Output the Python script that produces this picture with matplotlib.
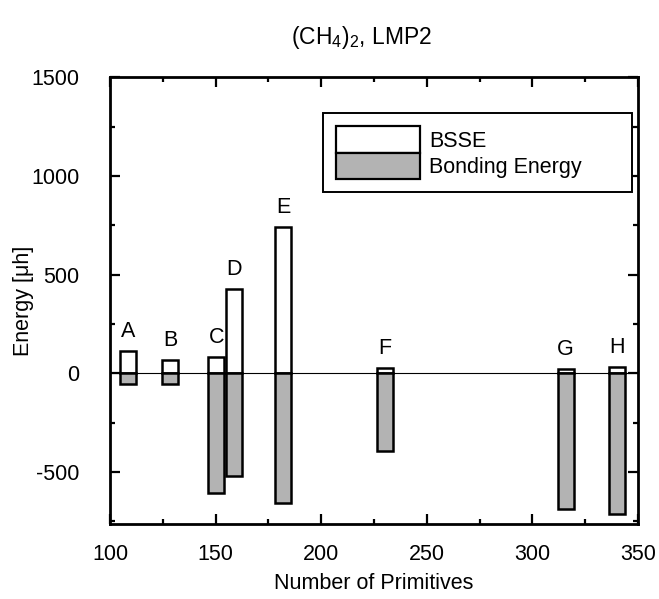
import matplotlib
matplotlib.use("Agg")
import matplotlib.pyplot as plt
from matplotlib.patches import Patch
from matplotlib.ticker import MultipleLocator

plt.rcParams["font.family"] = ["Liberation Sans", "DejaVu Sans"]
plt.rcParams["mathtext.fontset"] = "custom"
plt.rcParams["mathtext.rm"] = "Liberation Sans"
plt.rcParams["axes.unicode_minus"] = False

# basis sets, number of primitives, BSSE and bonding energy (micro-hartree)
labels = ["A", "B", "C", "D", "E", "F", "G", "H"]
primitives = [108.5, 128.5, 150.3, 158.7, 182.0, 230.0, 315.8, 340.0]
bsse = [112, 68, 82, 426, 741, 27, 22, 33]
bonding = [-54, -57, -606, -522, -660, -394, -689, -714]

GRAY = "#b3b3b3"
W = 7.6
FS = 15.5

fig = plt.figure(figsize=(6.59, 5.99), dpi=100)
ax = fig.add_axes([0.167, 0.125, 0.801, 0.746])

ax.axhline(0, color="black", lw=0.8, zorder=1)
ax.bar(primitives, bsse, width=W, facecolor="white", edgecolor="black", lw=1.8, zorder=2)
ax.bar(primitives, bonding, width=W, facecolor=GRAY, edgecolor="black", lw=1.8, zorder=2)

for name, x, b in zip(labels, primitives, bsse):
    ax.annotate(name, (x, max(b, 0)), xytext=(0, 14), textcoords="offset points",
                ha="center", va="center", fontsize=FS)

ax.set_xlim(100, 350)
ax.set_ylim(-765, 1500)
ax.xaxis.set_major_locator(MultipleLocator(50))
ax.xaxis.set_minor_locator(MultipleLocator(25))
ax.yaxis.set_major_locator(MultipleLocator(500))
ax.yaxis.set_minor_locator(MultipleLocator(250))
ax.tick_params(which="both", direction="in", top=True, right=True, width=1.6, labelsize=FS)
ax.tick_params(axis="x", which="both", pad=14)
ax.tick_params(axis="y", which="both", pad=22)
ax.tick_params(which="major", length=7)
ax.tick_params(which="minor", length=3.5)
for s in ax.spines.values():
    s.set_linewidth(2.0)

ax.set_xlabel("Number of Primitives", fontsize=FS, labelpad=6)
ax.set_ylabel("Energy [\u03bch]", fontsize=FS, labelpad=-2)
fig.text(0.548, 0.937, r"(CH$_4$)$_2$, LMP2", ha="center", va="center", fontsize=16.5)

handles = [Patch(facecolor="white", edgecolor="black", lw=1.6, label="BSSE"),
           Patch(facecolor=GRAY, edgecolor="black", lw=1.6, label="Bonding Energy")]
leg = ax.legend(handles=handles, loc="upper left", bbox_to_anchor=(0.403, 0.738, 0.586, 0.181),
                mode="expand", fontsize=FS, handlelength=3.9, handleheight=1.5,
                labelspacing=0.0, borderpad=0.6, handletextpad=0.45, borderaxespad=0,
                fancybox=False, edgecolor="black", framealpha=1)
leg.get_frame().set_linewidth(1.4)

fig.savefig("out.png", dpi=100)
